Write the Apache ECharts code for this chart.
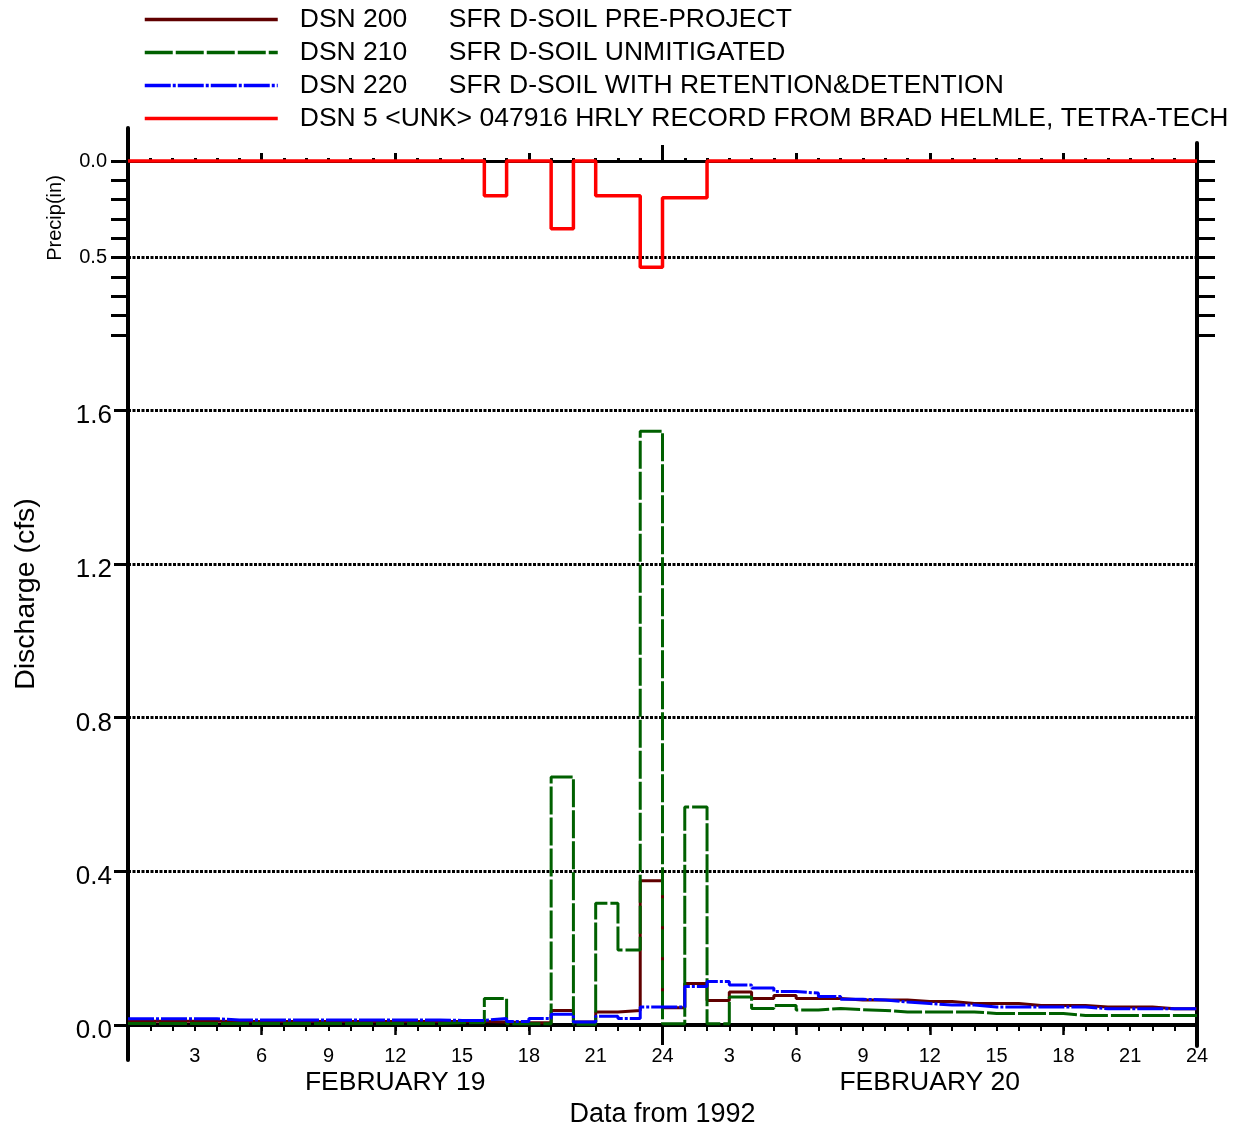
<!DOCTYPE html>
<html><head><meta charset="utf-8">
<script src="https://cdn.jsdelivr.net/npm/echarts@6/dist/echarts.min.js"></script>
<style>html,body{margin:0;padding:0;background:#fff}#c{width:1242px;height:1126px}</style>
</head><body><div id="c"></div>
<script>
// ---- DATA (hourly values, hour 0 = Feb 19 00:00) ----
const seriesNames = ['DSN 200', 'DSN 210', 'DSN 220', 'DSN 5'];
const seriesDesc = ['SFR D-SOIL PRE-PROJECT', 'SFR D-SOIL UNMITIGATED', 'SFR D-SOIL WITH RETENTION&DETENTION', '<UNK> 047916 HRLY RECORD FROM BRAD HELMLE, TETRA-TECH'];
const dayLabels = ['FEBRUARY 19', 'FEBRUARY 20'];
const xAxisTitle = 'Data from 1992';

const dsn200 = [0.010,0.010,0.010,0.010, 0.009,0.009,0.009,0.009,0.009,0.009,0.009,0.009,0.009,0.009,0.009,0.009,
  0.008,0.006,0.006,0.038,0.008,0.034,0.038,0.375,
  0.045,0.108,0.064,0.086,0.069,0.077,0.069,0.069,0.065,0.065,0.065,0.061,0.061,
  0.056,0.056,0.056,0.051,0.051,0.051,0.047,0.047,0.047,0.042,0.042];
const dsn210 = [0.004,0.004,0.004,0.004,0.004,0.004,0.004,0.004,0.004,0.004,0.004,0.004,0.004,0.004,0.006,0.006,
  0.069,0.003,0.003,0.645,0.002,0.317,0.195,1.545,
  0.003,0.567,0.003,0.073,0.043,0.051,0.039,0.043,0.040,0.038,0.034,0.034,0.034,
  0.034,0.030,0.030,0.030,0.030,0.025,0.025,0.025,0.025,0.025,0.025];
const dsn220 = [0.016,0.016,0.016,0.016, 0.013,0.013,0.013,0.013,0.013,0.013,0.013,0.013,0.013,0.013,0.012,0.012,
  0.017,0.009,0.017,0.028,0.008,0.023,0.017,0.047,
  0.047,0.100,0.113,0.104,0.096,0.087,0.083,0.074,0.067,0.065,0.060,0.056,0.052,
  0.052,0.047,0.047,0.047,0.047,0.047,0.042,0.042,0.042,0.042,0.042];
const precip = [0,0,0,0,0,0,0,0,0,0,0,0,0,0,0,0,
  0.18,0,0,0.35,0,0.18,0.18,0.55,
  0.19,0.19,0,0,0,0,0,0,0,0,0,0,0,
  0,0,0,0,0,0,0,0,0,0,0];

// ---- CHART ----
const FONT = 'Liberation Sans, Arial, sans-serif';
const K = '#000';
const dashLine = {color: K, width: 3, type: [3, 1.5]};
function stepData(vals) {
  const d = vals.map((v, i) => [i, v]);
  d.push([vals.length, vals[vals.length - 1]]);
  return d;
}
function xBase(grid, pos) {
  return {gridIndex: grid, type: 'value', min: 0, max: 48, position: pos,
    axisLine: {show: false, onZero: false}, axisTick: {show: false},
    axisLabel: {show: false}, splitLine: {show: false}};
}
const tick = (len, w) => ({show: true, length: len, lineStyle: {color: K, width: w}});
const G = o => Object.assign({left: 128, right: 45, containLabel: false, outerBoundsMode: 'none'}, o);

const option = {
  animation: false,
  backgroundColor: '#fff',
  grid: [
    G({top: 410, bottom: 101}),          // 0 discharge
    G({top: 161, height: 174}),          // 1 precip (0..0.9 in)
    G({top: 128, bottom: 66}),           // 2 left frame line
    G({top: 143, bottom: 80}),           // 3 right frame line
    G({top: 161, height: 114}),          // 4 precip name holder
    G({top: 161, height: 96.7})          // 5 precip 0.5 grid line
  ],
  legend: {
    orient: 'vertical', left: 143, top: 3, padding: 0, itemGap: 0,
    itemWidth: 133, itemHeight: 33, selectedMode: false,
    itemStyle: {opacity: 0, borderWidth: 0},
    lineStyle: {width: 3.5},
    data: seriesNames,
    formatter: name => {
      const i = seriesNames.indexOf(name);
      return i < 3 ? '{a|' + name + '}{b|' + seriesDesc[i] + '}' : '{b|' + name + ' ' + seriesDesc[i] + '}';
    },
    textStyle: {fontFamily: FONT, fontSize: 26.5, color: K, lineHeight: 33, padding: [0, 0, 0, 17],
      rich: {a: {width: 149, fontFamily: FONT, fontSize: 26.5, color: K, lineHeight: 33},
             b: {fontFamily: FONT, fontSize: 26.5, color: K, lineHeight: 33}}}
  },
  xAxis: [
    Object.assign(xBase(0, 'bottom'), {interval: 1,
      axisLine: {show: true, onZero: false, lineStyle: {color: K, width: 4}}, axisTick: tick(6, 2)}),
    Object.assign(xBase(0, 'bottom'), {interval: 6, axisTick: tick(10, 2.5)}),
    Object.assign(xBase(0, 'bottom'), {interval: 3,
      axisLabel: {show: true, margin: 21, fontSize: 20, fontFamily: FONT, color: K,
        formatter: v => v === 0 ? '' : String(v <= 24 ? v : v - 24)}}),
    Object.assign(xBase(0, 'bottom'), {interval: 12,
      axisLabel: {show: true, margin: 44, fontSize: 26.5, fontFamily: FONT, color: K,
        formatter: v => v === 12 ? dayLabels[0] : (v === 36 ? dayLabels[1] : '')},
      name: xAxisTitle, nameLocation: 'middle', nameGap: 71,
      nameTextStyle: {fontSize: 27, fontFamily: FONT, color: K}}),
    Object.assign(xBase(0, 'bottom'), {interval: 24, axisTick: tick(20, 3)}),
    Object.assign(xBase(1, 'top'), {interval: 1,
      axisLine: {show: true, onZero: false, lineStyle: {color: K, width: 3}}, axisTick: tick(3, 3)}),
    Object.assign(xBase(1, 'top'), {interval: 6, axisTick: tick(8, 3)}),
    Object.assign(xBase(1, 'top'), {interval: 24, axisTick: tick(16, 3)}),
    Object.assign(xBase(2, 'bottom'), {show: false}),
    Object.assign(xBase(3, 'bottom'), {show: false}),
    Object.assign(xBase(4, 'bottom'), {show: false}),
    Object.assign(xBase(5, 'bottom'), {show: false})
  ],
  yAxis: [
    {gridIndex: 0, type: 'value', position: 'left', min: 0, max: 1.6, interval: 0.4,
      axisLine: {show: true, onZero: false, lineStyle: {color: K, width: 4}},
      axisTick: tick(14, 3),
      axisLabel: {margin: 16, color: K,
        formatter: v => '{v|' + v.toFixed(1) + '}',
        rich: {v: {fontSize: 26, fontFamily: FONT, color: K, padding: [12, 0, 0, 0]}}},
      splitLine: {show: true, lineStyle: dashLine}},
    {gridIndex: 1, type: 'value', position: 'left', inverse: true, min: 0, max: 0.9, interval: 0.1,
      axisLine: {show: true, onZero: false, lineStyle: {color: K, width: 4}},
      axisTick: tick(17, 3),
      axisLabel: {margin: 21, fontSize: 20, fontFamily: FONT, color: K,
        formatter: v => (Math.abs(v) < 1e-6 || Math.abs(v - 0.5) < 1e-6) ? v.toFixed(1) : ''},
      splitLine: {show: false}},
    {gridIndex: 1, type: 'value', position: 'right', inverse: true, min: 0, max: 0.9, interval: 0.1,
      axisLine: {show: true, onZero: false, lineStyle: {color: K, width: 4}},
      axisTick: tick(18, 3), axisLabel: {show: false}, splitLine: {show: false}},
    {gridIndex: 5, type: 'value', position: 'left', inverse: true, min: 0, max: 0.5, interval: 0.5,
      axisLine: {show: false}, axisTick: {show: false}, axisLabel: {show: false},
      splitLine: {show: true, lineStyle: dashLine}},
    {gridIndex: 2, type: 'value', position: 'left', min: 0, max: 1,
      axisLine: {show: true, onZero: false, lineStyle: {color: K, width: 4}},
      axisTick: {show: false}, axisLabel: {show: false}, splitLine: {show: false},
      name: 'Discharge (cfs)', nameLocation: 'middle', nameGap: 87,
      nameTextStyle: {fontSize: 28.5, fontFamily: FONT, color: K}},
    {gridIndex: 3, type: 'value', position: 'right', min: 0, max: 1,
      axisLine: {show: true, onZero: false, lineStyle: {color: K, width: 4}},
      axisTick: {show: false}, axisLabel: {show: false}, splitLine: {show: false}},
    {gridIndex: 4, type: 'value', position: 'left', min: 0, max: 1,
      axisLine: {show: false}, axisTick: {show: false}, axisLabel: {show: false}, splitLine: {show: false},
      name: 'Precip(in)', nameLocation: 'middle', nameGap: 63,
      nameTextStyle: {fontSize: 20, fontFamily: FONT, color: K}}
  ],
  series: [
    {name: seriesNames[0], type: 'line', step: 'end', xAxisIndex: 0, yAxisIndex: 0, data: stepData(dsn200),
      symbol: 'none', clip: false, z: 3, color: '#600000', lineStyle: {color: '#600000', width: 3}},
    {name: seriesNames[1], type: 'line', step: 'end', xAxisIndex: 0, yAxisIndex: 0, data: stepData(dsn210),
      symbol: 'none', clip: false, z: 4, color: '#006000', lineStyle: {color: '#006000', width: 3, type: [28, 3]}},
    {name: seriesNames[2], type: 'line', step: 'end', xAxisIndex: 0, yAxisIndex: 0, data: stepData(dsn220),
      symbol: 'none', clip: false, z: 5, color: '#0000ff', lineStyle: {color: '#0000ff', width: 3, type: [26, 2, 3, 2]}},
    {name: seriesNames[3], type: 'line', step: 'end', xAxisIndex: 5, yAxisIndex: 1, data: stepData(precip),
      symbol: 'none', clip: false, z: 6, color: '#ff0000', lineStyle: {color: '#ff0000', width: 3.5}}
  ]
};
const chart = echarts.init(document.getElementById('c'), null, {renderer: 'canvas'});
chart.setOption(option);
</script></body></html>
